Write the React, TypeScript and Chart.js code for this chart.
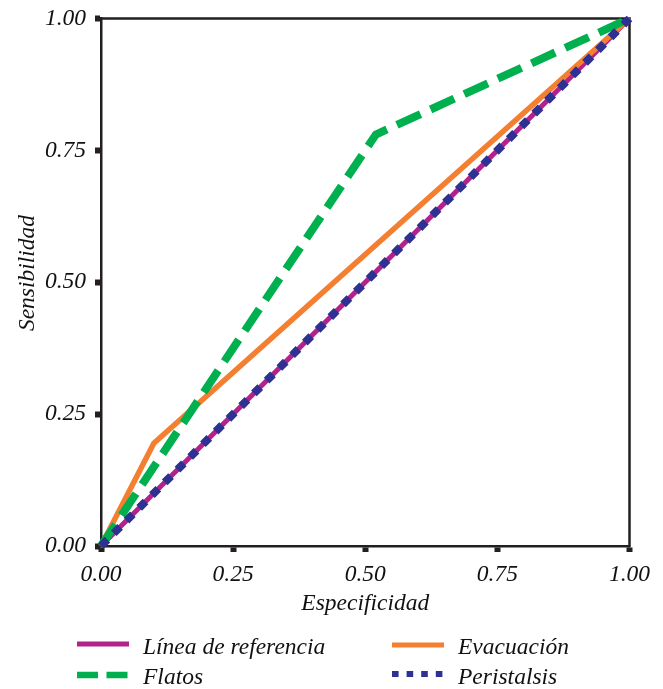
import React, { useEffect, useRef } from "react";
import { Chart, registerables } from "chart.js";

Chart.register(...registerables);

// ---- Data ----
const tickValues = [0, 0.25, 0.5, 0.75, 1];
const tickLabels = ["0.00", "0.25", "0.50", "0.75", "1.00"];

const seriesNames = ["Línea de referencia", "Evacuación", "Flatos", "Peristalsis"];

const referenciaX = [0, 1];
const referenciaY = [0, 1];

const evacuacionX = [0, 0.1, 1];
const evacuacionY = [0, 0.195, 1];

const flatosX = [0, 0.52, 1];
const flatosY = [0, 0.78, 1];

const peristalsisX = [0, 1];
const peristalsisY = [0, 1];

const xTitle = "Especificidad";
const yTitle = "Sensibilidad";

// ---- Styles ----
const COLORS = {
  ref: "#B3228C",
  evac: "#F47F30",
  flat: "#00B04F",
  peri: "#2E3192",
  axis: "#231F20",
  text: "#111111",
};
const FONT_FAMILY = "'Liberation Serif', 'Times New Roman', serif";
const FONT_SIZE = 23.5;

const W = 663;
const H = 689;
const LEFT = 101;
const RIGHT = 629.5;
const TOP = 18.5;
const BOTTOM = 546;

const toPoints = (xs: number[], ys: number[]) => xs.map((x, i) => ({ x, y: ys[i] }));

const framePlugin = {
  id: "frame",
  beforeDatasetsDraw(chart: any) {
    const { ctx, chartArea } = chart;
    ctx.save();
    ctx.strokeStyle = COLORS.axis;
    ctx.lineWidth = 2.5;
    ctx.beginPath();
    ctx.moveTo(chartArea.left - 1.25, chartArea.top);
    ctx.lineTo(chartArea.right, chartArea.top);
    ctx.lineTo(chartArea.right, chartArea.bottom + 1.25);
    ctx.stroke();
    ctx.restore();
  },
};

export default function App() {
  const canvasRef = useRef<HTMLCanvasElement | null>(null);

  useEffect(() => {
    if (!canvasRef.current) return;
    const font = { family: FONT_FAMILY, size: FONT_SIZE, style: "italic" as const, lineHeight: 1.2 };
    const labelFor = (v: number) => {
      const i = tickValues.findIndex((t) => Math.abs(t - v) < 1e-9);
      return i >= 0 ? tickLabels[i] : "";
    };
    const fit = { xHeight: H - BOTTOM, yWidth: LEFT };
    const chart = new Chart(canvasRef.current, {
      type: "scatter",
      data: {
        datasets: [
          {
            label: seriesNames[3],
            data: toPoints(peristalsisX, peristalsisY),
            showLine: true,
            borderColor: COLORS.peri,
            borderWidth: 8,
            borderDash: [9, 9],
            borderCapStyle: "butt",
            pointRadius: 0,
            order: 0,
            clip: false,
          },
          {
            label: seriesNames[2],
            data: toPoints(flatosX, flatosY),
            showLine: true,
            borderColor: COLORS.flat,
            borderWidth: 8,
            borderDash: [26, 11],
            borderCapStyle: "butt",
            pointRadius: 0,
            order: 1,
            clip: false,
          },
          {
            label: seriesNames[1],
            data: toPoints(evacuacionX, evacuacionY),
            showLine: true,
            borderColor: COLORS.evac,
            borderWidth: 5.5,
            pointRadius: 0,
            order: 2,
            clip: false,
          },
          {
            label: seriesNames[0],
            data: toPoints(referenciaX, referenciaY),
            showLine: true,
            borderColor: COLORS.ref,
            borderWidth: 5,
            pointRadius: 0,
            order: 3,
            clip: false,
          },
        ],
      },
      options: {
        animation: false,
        responsive: false,
        devicePixelRatio: 1,
        layout: { padding: { left: 0, right: W - RIGHT, top: TOP, bottom: 0 } },
        plugins: { legend: { display: false }, tooltip: { enabled: false } },
        scales: {
          x: {
            type: "linear",
            min: 0,
            max: 1,
            afterBuildTicks: (scale: any) => {
              scale.ticks = tickValues.map((v) => ({ value: v }));
            },
            afterFit: (scale: any) => {
              scale.height = fit.xHeight;
              scale.paddingLeft = 0;
              scale.paddingRight = 0;
            },
            ticks: {
              callback: (v: any) => labelFor(Number(v)),
              font,
              color: COLORS.text,
              padding: 9,
              maxRotation: 0,
              autoSkip: false,
            },
            grid: {
              drawOnChartArea: false,
              drawTicks: true,
              tickLength: 6,
              tickWidth: 6,
              tickColor: COLORS.axis,
            },
            border: { display: true, color: COLORS.axis, width: 2.5 },
            title: {
              display: true,
              text: xTitle,
              font,
              color: COLORS.text,
              padding: { top: 0, bottom: 71 },
            },
          },
          y: {
            type: "linear",
            min: 0,
            max: 1,
            afterBuildTicks: (scale: any) => {
              scale.ticks = tickValues.map((v) => ({ value: v }));
            },
            afterFit: (scale: any) => {
              scale.width = fit.yWidth;
              scale.paddingTop = 0;
              scale.paddingBottom = 0;
            },
            ticks: {
              callback: (v: any) => labelFor(Number(v)),
              font,
              color: COLORS.text,
              padding: 9,
              autoSkip: false,
            },
            grid: {
              drawOnChartArea: false,
              drawTicks: true,
              tickLength: 6,
              tickWidth: 6,
              tickColor: COLORS.axis,
            },
            border: { display: true, color: COLORS.axis, width: 2.5 },
            title: { display: false, text: yTitle },
          },
        },
      },
      plugins: [framePlugin],
    } as any);

    // self-correct the plot area to the intended rectangle
    for (let k = 0; k < 3; k++) {
      const ca = chart.chartArea;
      const pad: any = (chart.options as any).layout.padding;
      const dTop = ca.top - TOP;
      const dBottom = ca.bottom - BOTTOM;
      const dLeft = ca.left - LEFT;
      const dRight = ca.right - RIGHT;
      if (Math.abs(dTop) < 0.05 && Math.abs(dBottom) < 0.05 && Math.abs(dLeft) < 0.05 && Math.abs(dRight) < 0.05) break;
      pad.top -= dTop;
      fit.xHeight += dBottom;
      fit.yWidth -= dLeft;
      pad.right += dRight;
      chart.update();
    }
    return () => chart.destroy();
  }, []);

  const legendItems = [
    { name: seriesNames[0], color: COLORS.ref, dash: "", width: 5, x: 77, len: 52, y: 644, tx: 143, ty: 654 },
    { name: seriesNames[1], color: COLORS.evac, dash: "", width: 5, x: 392, len: 52, y: 645, tx: 458, ty: 654 },
    { name: seriesNames[2], color: COLORS.flat, dash: "21 8.5", width: 6.5, x: 77, len: 52, y: 675, tx: 143, ty: 684 },
    { name: seriesNames[3], color: COLORS.peri, dash: "6.6 8", width: 6, x: 392, len: 51, y: 674, tx: 458, ty: 684 },
  ];

  return (
    <div style={{ position: "absolute", left: 0, top: 0, width: W, height: H, background: "#fff" }}>
      <canvas ref={canvasRef} width={W} height={H} style={{ position: "absolute", left: 0, top: 0, width: W, height: H }} />
      <svg width={W} height={H} style={{ position: "absolute", left: 0, top: 0, pointerEvents: "none" }}>
        <text
          x={0}
          y={0}
          transform={`translate(33.5, 273) rotate(-90)`}
          textAnchor="middle"
          fontFamily={FONT_FAMILY}
          fontStyle="italic"
          fontSize={FONT_SIZE}
          fill={COLORS.text}
        >
          {yTitle}
        </text>
        {legendItems.map((it) => (
          <g key={it.name}>
            <line
              x1={it.x}
              x2={it.x + it.len}
              y1={it.y}
              y2={it.y}
              stroke={it.color}
              strokeWidth={it.width}
              strokeDasharray={it.dash || undefined}
            />
            <text
              x={it.tx}
              y={it.ty}
              fontFamily={FONT_FAMILY}
              fontStyle="italic"
              fontSize={FONT_SIZE}
              fill={COLORS.text}
            >
              {it.name}
            </text>
          </g>
        ))}
      </svg>
    </div>
  );
}
